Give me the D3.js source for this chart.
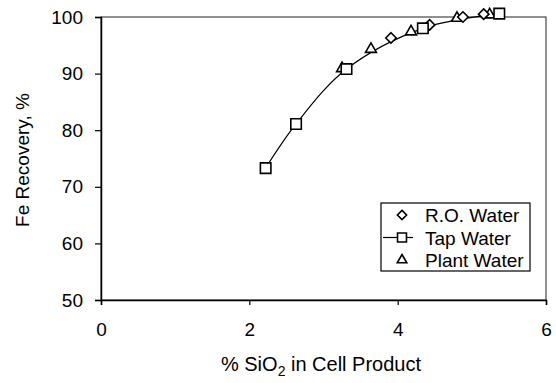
<!DOCTYPE html>
<html>
<head>
<meta charset="utf-8">
<script src="https://cdn.jsdelivr.net/npm/d3@7"></script>
<style>
  body { margin: 0; background: #fff; }
  text { font-family: "Liberation Sans", Arial, sans-serif; fill: #000; }
</style>
</head>
<body>
<div id="chart"></div>
<script>
// data
var roX = [3.91, 4.43, 4.88, 5.16];
var roY = [96.3, 98.6, 100.0, 100.5];
var tapX = [2.22, 2.63, 3.31, 4.34, 5.37];
var tapY = [73.3, 81.1, 90.8, 98.0, 100.6];
var plantX = [3.25, 3.64, 4.18, 4.80, 5.24];
var plantY = [90.9, 94.3, 97.4, 99.8, 100.4];
var xTicks = [0, 2, 4, 6];
var yTicks = [50, 60, 70, 80, 90, 100];
var legendNames = ["R.O. Water", "Tap Water", "Plant Water"];

var margin = { left: 101, top: 17 };

var svg = d3.select("#chart")
    .append("svg")
    .attr("width", 556)
    .attr("height", 383);

var g = svg.append("g")
    .attr("transform", "translate(" + margin.left + ", " + margin.top + ")");

var x = d3.scaleLinear().domain([0, 6]).range([0, 445]);
var y = d3.scaleLinear().domain([50, 100]).range([283, 0]);

// plot area border (top + right)
g.append("rect")
    .attr("x", 0).attr("y", 0)
    .attr("width", x(6)).attr("height", y(50))
    .attr("fill", "none")
    .attr("stroke", "#222")
    .attr("stroke-width", 1);

// axes
var xAxis = g.append("g")
    .attr("transform", "translate(0," + y(50) + ")")
    .call(d3.axisBottom(x).tickValues(xTicks).tickSize(5).tickPadding(18).tickFormat(d3.format("d")));
var yAxis = g.append("g")
    .call(d3.axisLeft(y).tickValues(yTicks).tickSize(6).tickPadding(12).tickFormat(d3.format("d")));

[xAxis, yAxis].forEach(function (a) {
    a.select(".domain").attr("stroke", "#000").attr("stroke-width", 1.5);
    a.selectAll(".tick line").attr("stroke", "#000").attr("stroke-width", 1.2);
    a.selectAll("text")
        .attr("font-size", "19px")
        .attr("font-family", "'Liberation Sans', Arial, sans-serif")
        .attr("fill", "#000");
});

// axis labels
var xl = svg.append("text")
    .attr("x", 321)
    .attr("y", 371)
    .attr("font-size", "20px")
    .attr("text-anchor", "middle");
xl.append("tspan").text("% SiO");
xl.append("tspan").attr("font-size", "14px").attr("dy", 5).text("2");
xl.append("tspan").attr("dy", -5).text(" in Cell Product");

svg.append("text")
    .attr("transform", "translate(29,160) rotate(-90)")
    .attr("font-size", "19px")
    .attr("text-anchor", "middle")
    .text("Fe Recovery, %");

// tap water smooth line
var tap = tapX.map(function (d, i) { return [d, tapY[i]]; });
g.append("path")
    .datum(tap)
    .attr("fill", "none")
    .attr("stroke", "#000")
    .attr("stroke-width", 1.2)
    .attr("d", d3.line()
        .x(function (d) { return x(d[0]); })
        .y(function (d) { return y(d[1]); })
        .curve(d3.curveCatmullRom.alpha(0.5)));

var sym = {
    diamond: d3.symbol().type(d3.symbolDiamond2).size(70),
    square: d3.symbol().type(d3.symbolSquare).size(110),
    triangle: d3.symbol().type(d3.symbolTriangle2).size(85)
};

function drawMarkers(xs, ys, s) {
    g.selectAll(null)
        .data(xs.map(function (d, i) { return [d, ys[i]]; }))
        .enter()
        .append("path")
        .attr("d", s)
        .attr("transform", function (d) { return "translate(" + x(d[0]) + "," + y(d[1]) + ")"; })
        .attr("fill", "#fff")
        .attr("stroke", "#000")
        .attr("stroke-width", 1.6);
}

drawMarkers(plantX, plantY, sym.triangle);
drawMarkers(roX, roY, sym.diamond);
drawMarkers(tapX, tapY, sym.square);

// legend
var lg = svg.append("g").attr("transform", "translate(381,203)");
lg.append("rect")
    .attr("width", 149).attr("height", 68)
    .attr("fill", "#fff")
    .attr("stroke", "#000")
    .attr("stroke-width", 1.2);

var legendSyms = [
    d3.symbol().type(d3.symbolDiamond2).size(55),
    d3.symbol().type(d3.symbolSquare).size(80),
    d3.symbol().type(d3.symbolTriangle2).size(65)
];
legendNames.forEach(function (name, i) {
    var cy = 12 + i * 22.5;
    if (i === 1) {
        lg.append("line")
            .attr("x1", 2).attr("x2", 32)
            .attr("y1", cy).attr("y2", cy)
            .attr("stroke", "#000").attr("stroke-width", 1.2);
    }
    lg.append("path")
        .attr("d", legendSyms[i])
        .attr("transform", "translate(21," + cy + ")")
        .attr("fill", "#fff")
        .attr("stroke", "#000")
        .attr("stroke-width", 1.6);
    lg.append("text")
        .attr("x", 44)
        .attr("y", cy + 7)
        .attr("font-size", "19px")
        .text(name);
});
</script>
</body>
</html>
